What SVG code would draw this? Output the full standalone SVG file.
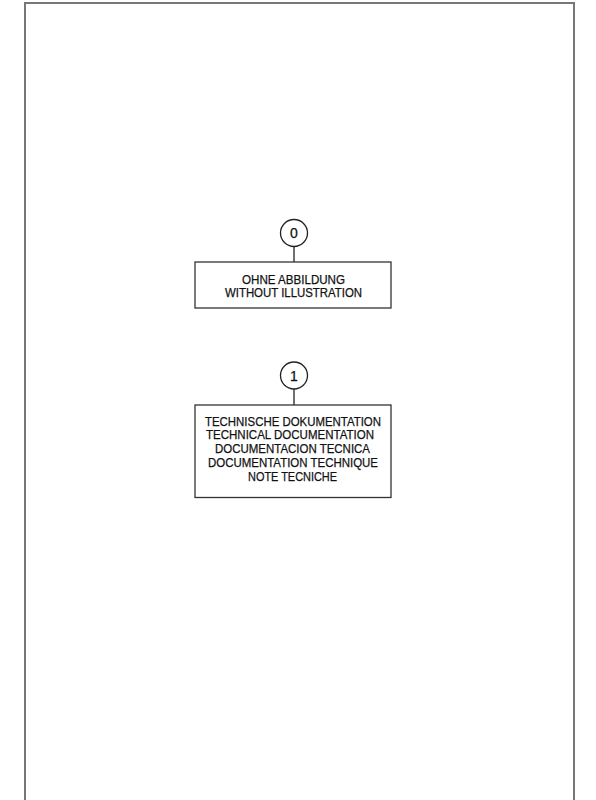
<svg xmlns="http://www.w3.org/2000/svg" width="596" height="800" viewBox="0 0 596 800">
<style>
.frame{fill:none;stroke:#777;stroke-width:2}
.box{fill:#fff;stroke:#333;stroke-width:1.3}
.bub{fill:#fff;stroke:#222;stroke-width:1.3}
.ln{stroke:#222;stroke-width:1.3;fill:none}
text{font-family:"Liberation Sans",Arial,sans-serif;font-size:12.5px;fill:#111;stroke:#111;stroke-width:0.25;text-anchor:middle}
.num{font-size:14px}
</style>
<rect width="596" height="800" fill="#fff"/>
<path class="frame" d="M25,810 V3 H574 V810"/>
<g id="connectors">
<line class="ln" x1="294" y1="246.5" x2="294" y2="262"/>
<line class="ln" x1="294" y1="389" x2="294" y2="405"/>
</g>
<g id="node0">
<circle class="bub" cx="294" cy="233" r="13.5"/>
<text class="num" x="294" y="238">0</text>
<rect class="box" x="195" y="262" width="196" height="46"/>
<text x="293.5" y="284.3" textLength="103" lengthAdjust="spacingAndGlyphs">OHNE ABBILDUNG</text>
<text x="293.5" y="297" textLength="137" lengthAdjust="spacingAndGlyphs">WITHOUT ILLUSTRATION</text>
</g>
<g id="node1">
<circle class="bub" cx="294" cy="375.5" r="13.5"/>
<text class="num" x="294" y="380.5">1</text>
<rect class="box" x="195" y="405" width="196" height="92.5"/>
<text x="293" y="426" textLength="176" lengthAdjust="spacingAndGlyphs">TECHNISCHE DOKUMENTATION</text>
<text x="290" y="439.3" textLength="168" lengthAdjust="spacingAndGlyphs">TECHNICAL DOCUMENTATION</text>
<text x="292.5" y="452.8" textLength="155" lengthAdjust="spacingAndGlyphs">DOCUMENTACION TECNICA</text>
<text x="293" y="467" textLength="170" lengthAdjust="spacingAndGlyphs">DOCUMENTATION TECHNIQUE</text>
<text x="292.5" y="480.5" textLength="89" lengthAdjust="spacingAndGlyphs">NOTE TECNICHE</text>
</g>
</svg>
